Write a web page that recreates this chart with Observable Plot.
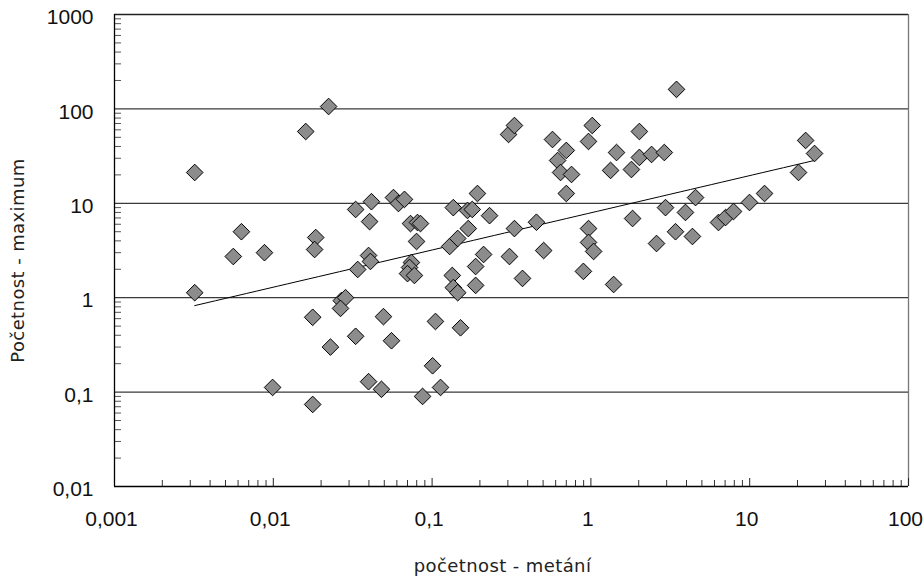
<!DOCTYPE html>
<html>
<head>
<meta charset="utf-8">
<script src="https://cdn.jsdelivr.net/npm/d3@7"></script>
<script src="https://cdn.jsdelivr.net/npm/@observablehq/plot@0.6"></script>
<style>
  html, body { margin: 0; padding: 0; background: #fff; }
  .atitle text { letter-spacing: 0.4px; }
</style>
</head>
<body>
<div id="chart"></div>
<script>
// početnost - metání (x) and Početnost - maximum (y)
const xValues = [0.0032, 0.0032, 0.0063, 0.0056, 0.0088, 0.0099, 0.016, 0.0223, 0.0185, 0.0182,
  0.0177, 0.0177, 0.0229, 0.0268, 0.0285, 0.0265, 0.033, 0.033, 0.034, 0.0398,
  0.0409, 0.0415, 0.0404, 0.0398, 0.048, 0.0494, 0.0555, 0.0571, 0.0614, 0.067,
  0.0731, 0.0809, 0.0845, 0.0798, 0.0741, 0.0721, 0.070, 0.0774, 0.0871, 0.113,
  0.105, 0.1007, 0.151, 0.129, 0.145, 0.136, 0.167, 0.179, 0.193, 0.169,
  0.23, 0.211, 0.188, 0.188, 0.134, 0.136, 0.145, 0.307, 0.33, 0.371,
  0.454, 0.504, 0.303, 0.33, 0.573, 0.70, 0.617, 0.644, 0.755, 0.70,
  0.897, 0.966, 0.966, 1.04, 1.02, 0.966, 1.39, 1.45, 1.33, 2.02,
  2.02, 2.41, 2.9, 1.8, 1.83, 2.95, 3.46, 3.41, 2.59, 4.36,
  3.94, 4.56, 6.36, 7.05, 7.91, 9.97, 12.4, 20.3, 22.5, 25.6];
const yValues = [21.2, 1.13, 5.0, 2.73, 3.0, 0.112, 57.6, 106, 4.34, 3.24,
  0.62, 0.074, 0.30, 0.93, 1.0, 0.77, 8.6, 0.39, 1.99, 2.8,
  2.42, 10.4, 6.4, 0.129, 0.107, 0.63, 0.35, 11.5, 9.95, 11.0,
  6.1, 6.26, 6.1, 3.94, 2.36, 2.09, 1.8, 1.72, 0.090, 0.112,
  0.56, 0.19, 0.48, 3.49, 4.24, 9.0, 8.4, 8.6, 12.7, 5.4,
  7.4, 2.87, 2.14, 1.35, 1.72, 1.28, 1.13, 2.73, 5.4, 1.6,
  6.3, 3.16, 53.6, 66.7, 47.4, 36.3, 28.4, 21.2, 20.2, 12.7,
  1.9, 5.4, 3.85, 3.09, 66.7, 45.2, 1.38, 34.5, 22.3, 57.6,
  30.6, 32.9, 34.5, 22.8, 6.9, 9.0, 161, 5.0, 3.75, 4.45,
  8.0, 11.5, 6.26, 7.07, 8.19, 10.2, 12.7, 21.2, 46.3, 33.7];

// power trendline y = a * x^b
const trendA = 7.93;
const trendB = 0.394;

const xTicks = [0.001, 0.01, 0.1, 1, 10, 100];
const yTicks = [0.01, 0.1, 1, 10, 100, 1000];
const yGrid = [0.1, 1, 10, 100];
const xTitle = "početnost - metání";
const yTitle = "Početnost - maximum";

const points = xValues.map((x, i) => ({x, y: yValues[i]}));
const minors = (decades) => decades.slice(0, -1).flatMap(d => d3.range(2, 10).map(k => d * k));
const xMinor = minors(xTicks);
const yMinor = minors(yTicks);
const [tx0, tx1] = d3.extent(xValues);
const trend = d3.range(0, 61).map(i => {
  const x = tx0 * Math.pow(tx1 / tx0, i / 60);
  return {x, y: trendA * Math.pow(x, trendB)};
});
const fmt = v => String(v).replace(".", ",");

const W = 923, H = 582, ML = 114, MR = 15, MT = 14, MB = 96;
const fw = W - ML - MR, fh = H - MT - MB;

const chart = Plot.plot({
  width: W, height: H,
  marginLeft: ML, marginRight: MR, marginTop: MT, marginBottom: MB,
  x: {type: "log", domain: [0.001, 100]},
  y: {type: "log", domain: [0.01, 1000]},
  style: {fontFamily: "'Liberation Sans', Arial, sans-serif", background: "#fff", color: "#111"},
  marks: [
    Plot.ruleY(yGrid, {stroke: "#3a3a3a", strokeWidth: 1.3}),
    Plot.ruleY([1000], {stroke: "#222", strokeWidth: 1.3}),
    Plot.ruleX([100], {stroke: "#777", strokeWidth: 1.3}),
    Plot.tickY(yMinor, {insetRight: fw - 7, stroke: "#555"}),
    Plot.tickX(xMinor, {insetTop: fh - 6, stroke: "#333"}),
    Plot.tickX(xTicks, {insetTop: fh - 8, stroke: "#222"}),
    Plot.ruleX([0.001], {stroke: "#000", strokeWidth: 1.3}),
    Plot.ruleY([0.01], {stroke: "#000", strokeWidth: 1.3}),
    Plot.line(trend, {x: "x", y: "y", stroke: "#000", strokeWidth: 1}),
    Plot.dot(points, {x: "x", y: "y", symbol: "diamond2", r: 7.5, fill: "#8c8c8c", stroke: "#000", strokeWidth: 1}),
    Plot.axisY(yTicks, {tickSize: 0, tickPadding: 21, tickFormat: fmt, fontSize: 21, dy: 3, label: null}),
    Plot.axisX(xTicks, {tickSize: 0, tickPadding: 25, tickFormat: fmt, fontSize: 21, dx: -3, label: null}),
    Plot.text([yTitle], {frameAnchor: "left", textAnchor: "middle", rotate: -90, dx: -96, dy: 10, fontSize: 18, fontFamily: "'DejaVu Sans', sans-serif", fill: "#222", className: "atitle"}),
    Plot.text([xTitle], {frameAnchor: "bottom", textAnchor: "middle", dx: -9, dy: 85, fontSize: 18, fontFamily: "'DejaVu Sans', sans-serif", fill: "#222", className: "atitle"})
  ]
});
document.getElementById("chart").appendChild(chart);
</script>
</body>
</html>
